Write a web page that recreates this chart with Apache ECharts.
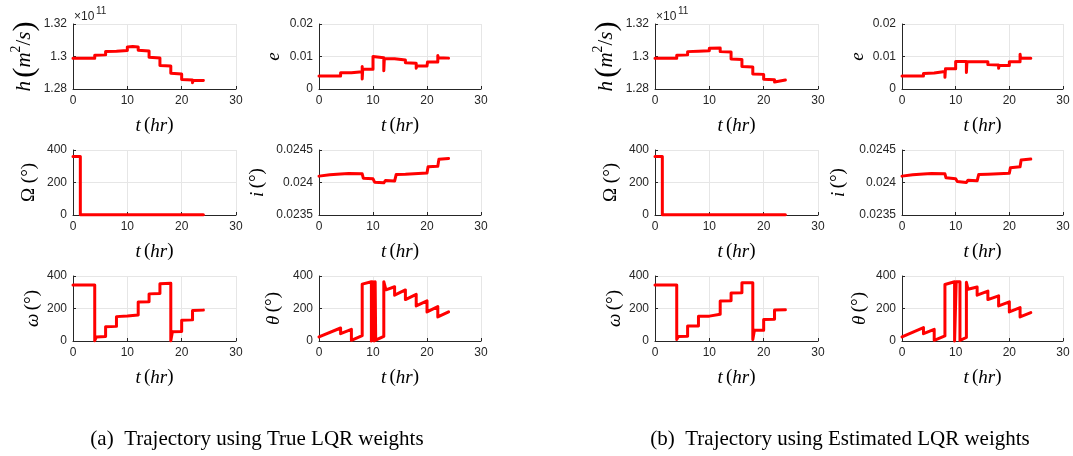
<!DOCTYPE html>
<html>
<head>
<meta charset="utf-8">
<script src="https://cdn.jsdelivr.net/npm/echarts@6.0.0/dist/echarts.min.js"></script>
<style>
  html, body { margin: 0; background: #fff; }
  #chart { width: 1073px; height: 456px; }
</style>
</head>
<body>
<div id="chart"></div>
<script>
// ---- data: [t (hr), value] ----
// (a) true LQR weights
const hA = [[0,1.299],[4,1.299],[4,1.3008],[6,1.3010],[6,1.3031],[8,1.3032],[8,1.3041],[8.1,1.3036],[10,1.3037],[10,1.3059],[11,1.3061],[12,1.3058],[12,1.3039],[14,1.3034],[14,1.2995],[16,1.2991],[16,1.2944],[18,1.2942],[18,1.2897],[20,1.2892],[20,1.2859],[22,1.2855],[22,1.2839],[22.1,1.2852],[24,1.2853]];
const eA = [[0,0.0040],[4,0.0040],[4,0.0050],[6,0.0050],[6,0.0055],[6.1,0.0050],[6.2,0.0053],[8,0.0053],[8,0.0069],[8,0.0031],[8.1,0.0061],[10,0.0061],[10,0.0100],[10.2,0.0096],[12,0.0096],[12,0.0056],[12.1,0.0093],[14,0.0093],[14,0.0096],[14.1,0.0089],[16,0.0089],[16,0.0081],[18,0.0079],[18,0.0064],[18.1,0.0071],[20,0.0071],[20,0.0066],[20.1,0.0083],[22,0.0083],[22,0.0103],[22.1,0.0096],[24,0.0095]];
const omA = [[0,360],[1.35,360],[1.35,1],[24,1]];
const iA = [[0,0.024098],[2,0.024118],[4,0.024130],[5.5,0.024138],[8,0.024134],[8.2,0.024067],[10,0.024057],[10.3,0.024005],[12,0.023995],[12.3,0.024031],[14,0.024022],[14.3,0.024124],[16,0.024128],[16.2,0.024144],[20,0.024146],[20.2,0.024242],[22,0.024250],[22.2,0.024356],[24,0.024370]];
const wA = [[0,345],[4,345],[4,2],[4.3,25],[6,28],[6,88],[8,90],[8,150],[10,154],[10,158],[12,160],[12,240],[14,242],[14,290],[16,292],[16,352],[18,355],[18,2],[18.3,57],[20,58],[20,128],[22,130],[22,188],[24,190]];
const thA = [[0,25],[4,80],[4,45],[6,72],[6,4],[8,33],[8,350],[9.7,365],[9.7,0],[10,0],[10,365],[10.2,365],[10.2,0],[10.4,0],[10.4,365],[10.5,365],[10.5,5],[12,28],[12,365],[12.4,315],[14,334],[14,282],[16,314],[16,255],[18,287],[18,216],[20,247],[20,179],[22,212],[22,148],[24,179]];
// (b) estimated LQR weights
const hB = [[0,1.299],[4,1.299],[4,1.3008],[6,1.3010],[6,1.3030],[8,1.3032],[8,1.3040],[8.1,1.3034],[10,1.3035],[10,1.3051],[12,1.3052],[12,1.3030],[14,1.3028],[14,1.2984],[16,1.2982],[16,1.2939],[18,1.2936],[18,1.2893],[20,1.2890],[20,1.2860],[22,1.2857],[22,1.2843],[22.1,1.2853],[24,1.2855]];
const eB = [[0,0.0040],[4,0.0040],[4,0.0048],[6,0.0049],[6,0.0055],[6.1,0.0053],[8,0.0054],[8,0.0036],[8.1,0.0062],[10,0.0062],[10,0.0085],[12,0.0085],[12,0.0051],[12.1,0.0084],[14,0.0084],[14,0.0087],[14.1,0.0085],[16,0.0084],[16,0.0075],[18,0.0074],[18,0.0064],[18.1,0.0072],[20,0.0072],[20,0.0084],[22,0.0084],[22,0.0107],[22.1,0.0095],[24,0.0095]];
const omB = [[0,360],[1.35,360],[1.35,1],[24,1]];
const iB = [[0,0.024098],[2,0.024118],[4,0.024130],[5.5,0.024139],[8,0.024134],[8.2,0.024072],[10,0.024057],[10.3,0.024015],[12,0.024000],[12.3,0.024036],[14,0.024026],[14.3,0.024124],[16,0.024128],[16.2,0.024139],[20,0.024141],[20.2,0.024227],[22,0.024241],[22.2,0.024345],[24,0.024360]];
const wB = [[0,345],[4,345],[4,10],[4.3,27],[6,29],[6,92],[8,93],[8,152],[10,153],[10,164],[12,165],[12,246],[14,247],[14,295],[16,297],[16,359],[18,359],[18,10],[18.3,66],[20,66],[20,133],[22,134],[22,191],[24,192]];
const thB = [[0,25],[4,82],[4,45],[6,72],[6,4],[8,31],[8,348],[9.8,365],[9.8,0],[10.1,0],[10.1,365],[10.8,365],[10.8,3],[12,22],[12,361],[12.3,318],[14,332],[14,282],[16,307],[16,255],[18,278],[18,216],[20,241],[20,179],[22,206],[22,148],[24,175]];

const xTicks = { min: 0, max: 30, interval: 10 };
const captions = ['(a)  Trajectory using True LQR weights', '(b)  Trajectory using Estimated LQR weights'];

// ---- layout ----
const colLeft = [73, 319, 655, 902];
const colWidth = [163, 162, 163, 161];
const rowTop = [24, 150, 276];
const plotH = 65;

const hName = '{it|h} {bp|(}{it|m}{sup|2}{rm|/}{it|s}{bp|)}';
const plots = [
  { col: 0, row: 0, data: hA, min: 1.28, max: 1.32, step: 0.02, name: hName, gap: 30 },
  { col: 1, row: 0, data: eA, min: 0, max: 0.02, step: 0.01, name: '{it|e}', gap: 36 },
  { col: 0, row: 1, data: omA, min: 0, max: 400, step: 200, name: '{rm|Ω (°)}', gap: 34 },
  { col: 1, row: 1, data: iA, min: 0.0235, max: 0.0245, step: 0.0005, name: '{it|i} {rm|(°)}', gap: 52 },
  { col: 0, row: 2, data: wA, min: 0, max: 400, step: 200, name: '{it|ω} {rm|(°)}', gap: 31 },
  { col: 1, row: 2, data: thA, min: 0, max: 400, step: 200, name: '{it|θ} {rm|(°)}', gap: 36 },
  { col: 2, row: 0, data: hB, min: 1.28, max: 1.32, step: 0.02, name: hName, gap: 33 },
  { col: 3, row: 0, data: eB, min: 0, max: 0.02, step: 0.01, name: '{it|e}', gap: 35 },
  { col: 2, row: 1, data: omB, min: 0, max: 400, step: 200, name: '{rm|Ω (°)}', gap: 34 },
  { col: 3, row: 1, data: iB, min: 0.0235, max: 0.0245, step: 0.0005, name: '{it|i} {rm|(°)}', gap: 54 },
  { col: 2, row: 2, data: wB, min: 0, max: 400, step: 200, name: '{it|ω} {rm|(°)}', gap: 31 },
  { col: 3, row: 2, data: thB, min: 0, max: 400, step: 200, name: '{it|θ} {rm|(°)}', gap: 33 }
];

const ink = '#262626';
const gridColor = '#e6e6e6';
const serif = 'Liberation Serif';
const sans = 'Liberation Sans';

const richName = (size) => ({
  it: { fontFamily: serif, fontStyle: 'italic', fontSize: size, color: '#000' },
  rm: { fontFamily: serif, fontSize: size, color: '#000' },
  bp: { fontFamily: serif, fontSize: size * 1.45, color: '#000' },
  sup: { fontFamily: serif, fontSize: size * 0.65, color: '#000', verticalAlign: 'top', padding: [0, 0, 8, 0] }
});

const chart = echarts.init(document.getElementById('chart'));

const option = {
  animation: false,
  backgroundColor: '#fff',
  grid: plots.map(p => ({
    left: colLeft[p.col], top: rowTop[p.row], width: colWidth[p.col], height: plotH, containLabel: false
  })),
  xAxis: plots.map((p, k) => ({
    type: 'value', gridIndex: k, min: xTicks.min, max: xTicks.max, interval: xTicks.interval,
    name: '{it|t} {rm|(}{it|hr}{rm|)}', nameLocation: 'middle', nameGap: 27,
    nameTextStyle: { rich: richName(19) },
    axisLine: { show: true, lineStyle: { color: ink, width: 1 } },
    axisTick: { show: true, inside: true, length: 3, lineStyle: { color: ink } },
    axisLabel: { color: ink, fontFamily: sans, fontSize: 12, margin: 6 },
    splitLine: { show: true, lineStyle: { color: gridColor, width: 1 } }
  })),
  yAxis: plots.map((p, k) => ({
    type: 'value', gridIndex: k, min: p.min, max: p.max, interval: p.step,
    name: p.name, nameLocation: 'middle', nameRotate: 90, nameGap: p.gap,
    nameTextStyle: { rich: richName(p.row === 0 && p.col % 2 === 0 ? 21 : 19) },
    axisLine: { show: true, onZero: false, lineStyle: { color: ink, width: 1 } },
    axisTick: { show: true, inside: true, length: 3, lineStyle: { color: ink } },
    axisLabel: { color: ink, fontFamily: sans, fontSize: 12, margin: 6 },
    splitLine: { show: true, lineStyle: { color: gridColor, width: 1 } }
  })),
  series: plots.map((p, k) => ({
    type: 'line', xAxisIndex: k, yAxisIndex: k, data: p.data,
    showSymbol: false, symbol: 'none', clip: false,
    lineStyle: { color: '#ff0000', width: 3, join: 'round', cap: 'round' }
  })),
  graphic: [
    { type: 'text', left: 74, top: 11, style: { text: '×10', fontFamily: sans, fontSize: 12, fill: ink } },
    { type: 'text', left: 96, top: 6, style: { text: '11', fontFamily: sans, fontSize: 10, fill: ink } },
    { type: 'text', left: 656, top: 11, style: { text: '×10', fontFamily: sans, fontSize: 12, fill: ink } },
    { type: 'text', left: 678, top: 6, style: { text: '11', fontFamily: sans, fontSize: 10, fill: ink } },
    { type: 'text', x: 257, y: 439, style: { text: captions[0], fontFamily: serif, fontSize: 21, fill: '#000', align: 'center', verticalAlign: 'middle' } },
    { type: 'text', x: 840, y: 439, style: { text: captions[1], fontFamily: serif, fontSize: 21, fill: '#000', align: 'center', verticalAlign: 'middle' } }
  ]
};

chart.setOption(option);
</script>
</body>
</html>
